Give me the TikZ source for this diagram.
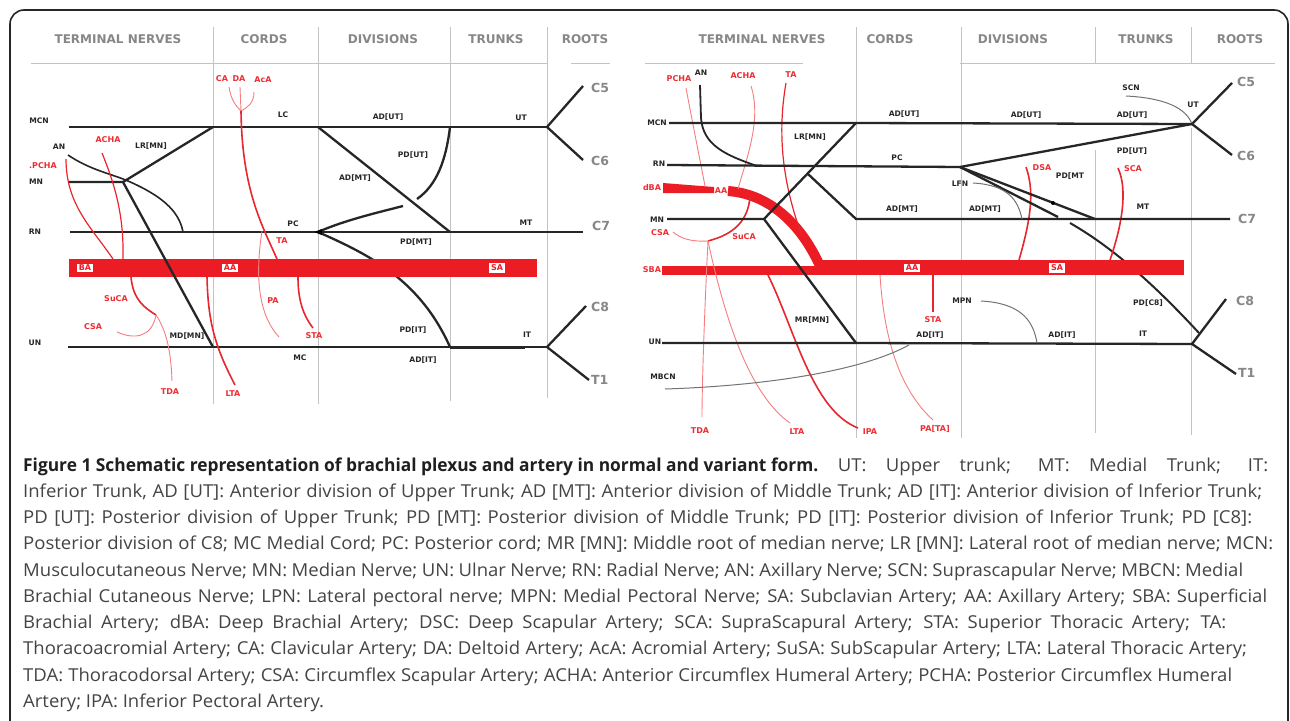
\documentclass[tikz,border=0pt]{standalone}
\usepackage{fontspec}
\setmainfont{Open Sans}
\newfontfamily\dv{DejaVu Sans}
\newfontfamily\capreg[FakeStretch=1.04]{Open Sans}
\newfontfamily\capbold[FakeStretch=0.975]{Open Sans}
\definecolor{band}{RGB}{236,28,36}
\definecolor{artr}{RGB}{232,38,46}
\definecolor{lart}{RGB}{245,125,128}
\definecolor{labr}{RGB}{238,45,50}
\definecolor{gridc}{RGB}{195,195,195}
\definecolor{hdrc}{RGB}{135,135,135}
\definecolor{capc}{RGB}{68,68,68}
\newcommand{\capfill}[2]{\makebox[#1pt][s]{#2}}
\tikzset{
  hdr/.style={font=\dv\bfseries\fontsize{12}{14}\selectfont, text=hdrc, inner sep=0},
  rootlab/.style={font=\dv\bfseries\fontsize{12.5}{14}\selectfont, text=hdrc, inner sep=0},
  lab/.style={font=\dv\bfseries\fontsize{7.6}{9}\selectfont, text=black!85, inner sep=0},
  rlab/.style={font=\dv\bfseries\fontsize{8}{9}\selectfont, text=labr, inner sep=0},
  boxlab/.style={font=\dv\bfseries\fontsize{8}{9}\selectfont, text=band, fill=white, inner xsep=2, inner ysep=1.5},
  gridl/.style={draw=gridc, line width=1},
  nerve/.style={draw=black!85, line width=2.3},
  gnerve/.style={draw=black!55, line width=1},
  art/.style={draw=artr, line width=1.6},
  lartl/.style={draw=lart, line width=0.9},
  capline/.style={anchor=base west, inner sep=0, font=\capreg\fontsize{17.8}{20}\selectfont, text=capc},
}
\begin{document}
\begin{tikzpicture}[x=1pt,y=-1pt]
\useasboundingbox (0,0) rectangle (1290,720);
\fill[white] (0,0) rectangle (1290,720);
\begin{scope}
\clip (0,0) rectangle (1290,720);
\draw[line width=1.6, rounded corners=14, black!85] (10,10) rectangle (1288,760);
\end{scope}

% ================= LEFT PANEL =================
\node[hdr] (lhTN) at (118,39) {TERMINAL NERVES};
\node[hdr] (lhCO) at (264,39) {CORDS};
\node[hdr] (lhDI) at (383,39) {DIVISIONS};
\node[hdr] (lhTR) at (496,39) {TRUNKS};
\node[hdr] (lhRO) at (585,39) {ROOTS};
\draw[gridl] (31,63) -- (547,63);
\draw[gridl] (571,63) -- (610,63);
\draw[gridl] (213,27) -- (213,404);
\draw[gridl] (318,27) -- (318,404);
\draw[gridl] (450,27) -- (450,401);
\draw[gridl] (547,27) -- (547,398);

\coordinate (LmcnE) at (69,127);
\coordinate (Llc) at (213,127);
\coordinate (Ldiv) at (318,127);
\coordinate (Ltr) at (450,127);
\coordinate (Lut) at (547,127);
\coordinate (Lc5) at (583,86);
\coordinate (Lc6) at (583,160);
\coordinate (Lmn) at (123,182);
\coordinate (LmnE) at (69,182);
\coordinate (LrnE) at (70,232);
\coordinate (Lpc) at (318,232);
\coordinate (Lmt) at (450,232);
\coordinate (Lc7) at (583,232);
\coordinate (LunE) at (68,347);
\coordinate (Lmc) at (213,347);
\coordinate (Lit) at (450,347);
\coordinate (Lrt) at (547,347);
\coordinate (Lc8) at (586,306);
\coordinate (Lt1) at (589,380);
\coordinate (LanS) at (68,155);
\coordinate (LanE) at (183,232);
\coordinate (LpdE) at (417,199);
\coordinate (LpcE) at (403,206);

\draw[nerve] (Lpc) .. controls (370,255) and (420,280) .. (Lit);

\fill[band] (69,259) rectangle (537,277);
\node[boxlab] (lBA) at (85,268) {BA};
\node[boxlab] (lAA) at (230,268) {AA};
\node[boxlab] (lSA) at (497,268) {SA};

\draw[nerve] (LmcnE) -- (Llc) -- (Ldiv) -- (Ltr) -- (Lut);
\draw[nerve] (Lc5) -- (Lut) -- (Lc6);
\draw[nerve] (Llc) -- (Lmn) -- (LmnE);
\draw[nerve] (Lmn) -- (Lmc);
\draw[nerve, line width=1.6] (LanS) .. controls (90,170) and (112,174) .. (128,181) .. controls (160,195) and (179,210) .. (LanE);
\draw[nerve] (LrnE) -- (Lpc) -- (Lmt) -- (Lc7);
\draw[nerve] (Ldiv) -- (Lmt);
\draw[nerve] (Ltr) .. controls (446,160) and (437,185) .. (LpdE);
\draw[nerve] (Lpc) .. controls (345,220) and (380,212) .. (LpcE);
\fill[black] (Lpc) ++(-4,0) -- ++(8,-3) -- ++(0,6) -- cycle;
\draw[nerve] (LunE) -- (Lmc) -- (Lit) -- (Lrt);
\draw[nerve, line width=3] (Lit) -- (525,347);
\draw[nerve] (Lc8) -- (Lrt) -- (Lt1);

\node[rootlab, anchor=west] (lC5) at (591,88) {C5};
\node[rootlab, anchor=west] (lC6) at (591,161) {C6};
\node[rootlab, anchor=west] (lC7) at (592,226) {C7};
\node[rootlab, anchor=west] (lC8) at (591,307) {C8};
\node[rootlab, anchor=west] (lT1) at (591,380) {T1};

\node[lab] (lMCN) at (39,121) {MCN};
\node[lab] (lLC) at (283,115) {LC};
\node[lab] (lADUT) at (388,117) {AD[UT]};
\node[lab] (lUT) at (521,118) {UT};
\node[lab] (lAN) at (59,147) {AN};
\node[lab] (lLRMN) at (151,146) {LR[MN]};
\node[lab] (lMN) at (36,182) {MN};
\node[lab] (lPDUT) at (413,155) {PD[UT]};
\node[lab] (lADMT) at (355,178) {AD[MT]};
\node[lab] (lRN) at (35,232) {RN};
\node[lab] (lPC) at (293,224) {PC};
\node[lab] (lMT) at (526,223) {MT};
\node[lab] (lPDMT) at (416,242) {PD[MT]};
\node[lab] (lPDIT) at (413,330) {PD[IT]};
\node[lab] (lIT) at (527,335) {IT};
\node[lab] (lUN) at (35,343) {UN};
\node[lab] (lMDMN) at (187,336) {MD[MN]};
\node[lab] (lMC) at (300,358) {MC};
\node[lab] (lADIT) at (423,360) {AD[IT]};

\coordinate (Ltaj) at (241,111);
\draw[lartl] (229,87) .. controls (231,100) and (236,106) .. (Ltaj);
\draw[lartl] (240,87) -- (Ltaj);
\draw[lartl] (254,92) .. controls (254,103) and (248,107) .. (Ltaj);
\draw[art] (Ltaj) .. controls (242,190) and (262,225) .. (277,259);
\draw[lartl] (262,231) .. controls (256,270) and (256,312) .. (279,337);
\draw[art] (298,277) .. controls (298,300) and (303,315) .. (313,328);
\draw[art] (207,277) .. controls (208,320) and (214,345) .. (235,385);
\coordinate (Lsub) at (156,315);
\draw[art] (131,277) .. controls (133,300) and (145,308) .. (Lsub);
\draw[lartl] (117,332) .. controls (135,340) and (152,337) .. (Lsub);
\draw[lartl] (Lsub) .. controls (166,330) and (171,350) .. (172,381);
\draw[art, line width=1.2] (102,153) .. controls (115,185) and (124,215) .. (123,259);
\draw[art, line width=1.2] (66,159) .. controls (66,205) and (92,228) .. (113,259);

\node[rlab] (lCA) at (222,79) {CA};
\node[rlab] (lDA) at (239,79) {DA};
\node[rlab] (lAcA) at (263,80) {AcA};
\node[rlab] (lTA) at (282,241) {TA};
\node[rlab] (lPA) at (273,301) {PA};
\node[rlab] (lSTA) at (314,336) {STA};
\node[rlab] (lLTA) at (233,394) {LTA};
\node[rlab] (lSuCA) at (116,299) {SuCA};
\node[rlab] (lCSA) at (93,327) {CSA};
\node[rlab] (lTDA) at (170,392) {TDA};
\node[rlab] (lACHA) at (108,140) {ACHA};
\node[rlab] (lPCHA) at (43,166) {.PCHA};

% ================= RIGHT PANEL =================
\node[hdr] (rhTN) at (762,39) {TERMINAL NERVES};
\node[hdr] (rhCO) at (890,39) {CORDS};
\node[hdr] (rhDI) at (1013,39) {DIVISIONS};
\node[hdr] (rhTR) at (1146,39) {TRUNKS};
\node[hdr] (rhRO) at (1240,39) {ROOTS};
\draw[gridl] (645,63) -- (803,63);
\draw[gridl] (960,63) -- (1275,63);
\draw[gridl] (856,27) -- (856,438);
\draw[gridl] (961,27) -- (961,438);
\draw[gridl] (1095,27) -- (1095,63);
\draw[gridl] (1095,150) -- (1095,433);
\draw[gridl] (1191,27) -- (1191,63);
\draw[gridl] (1191,128) -- (1191,435);

\coordinate (RmcnE) at (669,123);
\coordinate (Rlr) at (856,123);
\coordinate (Rut) at (1192,124);
\coordinate (Rc5) at (1232,83);
\coordinate (Rc6) at (1232,155);
\coordinate (RrnE) at (667,165);
\coordinate (Rpc) at (960,167);
\coordinate (RmnE) at (667,219);
\coordinate (Rmn) at (764,219);
\coordinate (Rbr) at (808,174);
\coordinate (Rmd) at (856,219);
\coordinate (Rc7) at (1230,219);
\coordinate (RunE) at (662,343);
\coordinate (Rmr) at (856,343);
\coordinate (Rit) at (1192,344);
\coordinate (Rc8) at (1226,299);
\coordinate (Rt1) at (1236,374);
\coordinate (Rpd1) at (1058,217);
\coordinate (Rpd2) at (1070,223);
\coordinate (Rpd3) at (1199,333);
\coordinate (Rmt) at (1095,219);

\draw[nerve, line width=2] (Rpd2) .. controls (1110,246) and (1150,280) .. (Rpd3);

\fill[band] (662,266) rectangle (818,275);
\fill[band] (817,260) rectangle (1184,275);
\fill[band] (663,183) -- (714,187) -- (714,193) -- (663,193) -- cycle;
\draw[band, line width=10] (728,191) .. controls (768,194) and (800,222) .. (820,266);
\node[boxlab] (rAA) at (912,268) {AA};
\node[boxlab] (rSA) at (1057,268) {SA};

\draw[lartl] (686,88) .. controls (692,120) and (700,160) .. (705,186);
\draw[lartl] (751,86) .. controls (762,120) and (746,160) .. (738,189);
\draw[art, line width=1.2] (786,83) .. controls (776,140) and (785,190) .. (802,236);
\coordinate (Rsub) at (708,241);
\draw[art] (750,197) .. controls (748,220) and (735,234) .. (Rsub);
\draw[lartl] (Rsub) .. controls (690,242) and (680,238) .. (673,232);
\draw[lartl] (Rsub) .. controls (705,300) and (702,380) .. (702,417);
\draw[lartl] (Rsub) .. controls (725,320) and (750,395) .. (790,423);
\draw[art] (768,275) .. controls (795,330) and (812,410) .. (858,428);
\draw[lartl] (880,275) .. controls (884,340) and (900,390) .. (933,420);
\draw[art] (933,275) -- (933,312);
\draw[art] (1026,167) .. controls (1034,190) and (1032,215) .. (1019,260);
\draw[art] (1118,168) .. controls (1128,190) and (1122,225) .. (1110,260);

\draw[nerve] (RmcnE) -- (Rlr) -- (Rut);
\draw[nerve] (Rc5) -- (Rut) -- (Rc6);
\draw[gnerve] (1126,96) .. controls (1165,98) and (1186,108) .. (Rut);
\draw[nerve] (RrnE) -- (Rpc) -- (Rut);
\draw[nerve] (Rlr) -- (Rmn) -- (RmnE);
\draw[nerve] (Rbr) -- (Rmd) -- (Rc7);
\draw[nerve] (Rmn) -- (Rmr);
\draw[nerve] (RunE) -- (Rmr) -- (Rit);
\draw[nerve] (Rc8) -- (Rit) -- (Rt1);
\draw[nerve] (Rpc) -- (Rpd1);
\draw[nerve] (Rpc) -- (Rmt);
\fill[black] (1053,203) circle (2);
\draw[nerve, line width=1.8] (700,85) -- (701,118) .. controls (703,145) and (725,155) .. (757,166);
\draw[gnerve] (973,183) .. controls (1008,185) and (1018,200) .. (1022,219);
\draw[gnerve] (981,301) .. controls (1018,303) and (1033,318) .. (1037,343);
\draw[gnerve] (665,389) .. controls (760,386) and (860,372) .. (909,345);

\node[rootlab, anchor=west] (rC5) at (1237,82) {C5};
\node[rootlab, anchor=west] (rC6) at (1237,156) {C6};
\node[rootlab, anchor=west] (rC7) at (1238,219) {C7};
\node[rootlab, anchor=west] (rC8) at (1236,301) {C8};
\node[rootlab, anchor=west] (rT1) at (1238,373) {T1};

\node[lab] (rMCN) at (657,123) {MCN};
\node[lab] (rRN) at (659,164) {RN};
\node[lab] (rMN) at (657,220) {MN};
\node[lab] (rUN) at (655,342) {UN};
\node[lab] (rMBCN) at (663,377) {MBCN};
\node[lab] (rAN) at (701,73) {AN};
\node[lab] (rLRMN) at (810,137) {LR[MN]};
\node[lab] (rPC) at (897,158) {PC};
\node[lab] (rADUT1) at (904,114) {AD[UT]};
\node[lab] (rADUT2) at (1026,115) {AD[UT]};
\node[lab] (rADUT3) at (1132,115) {AD[UT]};
\node[lab] (rSCN) at (1131,88) {SCN};
\node[lab] (rUT) at (1193,105) {UT};
\node[lab] (rPDUT) at (1132,151) {PD[UT]};
\node[lab] (rPDMT) at (1070,176) {PD[MT};
\node[lab] (rLFN) at (960,184) {LFN};
\node[lab] (rADMT1) at (902,209) {AD[MT]};
\node[lab] (rADMT2) at (985,209) {AD[MT]};
\node[lab] (rMT) at (1143,207) {MT};
\node[lab] (rMPN) at (962,301) {MPN};
\node[lab] (rPDC8) at (1148,303) {PD[C8]};
\node[lab] (rMRMN) at (812,320) {MR[MN]};
\node[lab] (rADIT1) at (930,335) {AD[IT]};
\node[lab] (rADIT2) at (1062,335) {AD[IT]};
\node[lab] (rIT) at (1143,334) {IT};

\node[rlab] (rPCHA) at (679,79) {PCHA};
\node[rlab] (rACHA) at (743,76) {ACHA};
\node[rlab] (rTA) at (791,75) {TA};
\node[rlab] (rdBA) at (652,188) {dBA};
\node[rlab] (rAAs) at (721,191) {AA};
\node[rlab] (rCSA) at (660,233) {CSA};
\node[rlab] (rSuCA) at (744,237) {SuCA};
\node[rlab] (rSBA) at (652,270) {SBA};
\node[rlab] (rSTA) at (933,320) {STA};
\node[rlab] (rTDA) at (700,431) {TDA};
\node[rlab] (rLTA) at (797,432) {LTA};
\node[rlab] (rIPA) at (870,432) {IPA};
\node[rlab] (rPATA) at (935,429) {PA[TA]};
\node[rlab] (rDSA) at (1042,168) {DSA};
\node[rlab] (rSCA) at (1133,169) {SCA};

% ================= CAPTION =================
\node[capline] (cap1) at (23,471) {\capfill{1245}{\mbox{\capbold\bfseries\color{black!88}Figure 1 Schematic representation of brachial plexus and artery in normal and variant form.} UT: Upper trunk; MT: Medial Trunk; IT:}};
\node[capline] (cap2) at (23,497) {\capfill{1239}{Inferior Trunk, AD [UT]: Anterior division of Upper Trunk; AD [MT]: Anterior division of Middle Trunk; AD [IT]: Anterior division of Inferior Trunk;}};
\node[capline] (cap3) at (23,523) {\capfill{1229}{PD [UT]: Posterior division of Upper Trunk; PD [MT]: Posterior division of Middle Trunk; PD [IT]: Posterior division of Inferior Trunk; PD [C8]:}};
\node[capline] (cap4) at (23,549) {\capfill{1250}{Posterior division of C8; MC Medial Cord; PC: Posterior cord; MR [MN]: Middle root of median nerve; LR [MN]: Lateral root of median nerve; MCN:}};
\node[capline] (cap5) at (23,576) {\capfill{1220}{Musculocutaneous Nerve; MN: Median Nerve; UN: Ulnar Nerve; RN: Radial Nerve; AN: Axillary Nerve; SCN: Suprascapular Nerve; MBCN: Medial}};
\node[capline] (cap6) at (23,602) {\capfill{1244}{Brachial Cutaneous Nerve; LPN: Lateral pectoral nerve; MPN: Medial Pectoral Nerve; SA: Subclavian Artery; AA: Axillary Artery; SBA: Superficial}};
\node[capline] (cap7) at (23,628) {\capfill{1203}{Brachial Artery; dBA: Deep Brachial Artery; DSC: Deep Scapular Artery; SCA: SupraScapural Artery; STA: Superior Thoracic Artery; TA:}};
\node[capline] (cap8) at (23,654) {\capfill{1224}{Thoracoacromial Artery; CA: Clavicular Artery; DA: Deltoid Artery; AcA: Acromial Artery; SuSA: SubScapular Artery; LTA: Lateral Thoracic Artery;}};
\node[capline] (cap9) at (23,681) {\capfill{1209}{TDA: Thoracodorsal Artery; CSA: Circumflex Scapular Artery; ACHA: Anterior Circumflex Humeral Artery; PCHA: Posterior Circumflex Humeral}};
\node[capline] (cap10) at (23,707) {Artery; IPA: Inferior Pectoral Artery.};
\end{tikzpicture}
\end{document}
